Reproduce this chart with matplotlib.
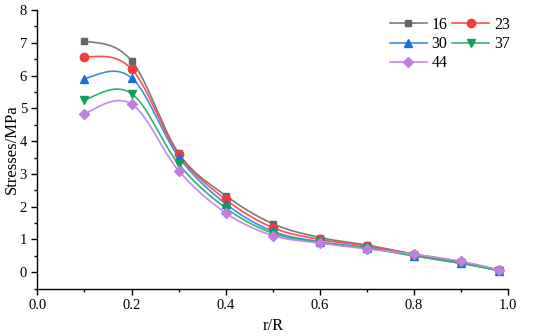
import numpy as np
import matplotlib
matplotlib.use("Agg")
import matplotlib.pyplot as plt
from matplotlib.ticker import MultipleLocator

# data
r_R = [0.1, 0.2, 0.3, 0.4, 0.5, 0.6, 0.7, 0.8, 0.9, 0.98]
s16 = [7.05, 6.45, 3.63, 2.34, 1.48, 1.06, 0.83, 0.55, 0.32, 0.06]
s23 = [6.57, 6.20, 3.60, 2.22, 1.36, 1.00, 0.80, 0.54, 0.31, 0.06]
s30 = [5.90, 5.93, 3.52, 2.09, 1.25, 0.93, 0.75, 0.50, 0.28, 0.05]
s37 = [5.25, 5.45, 3.30, 1.96, 1.19, 0.91, 0.74, 0.50, 0.27, 0.05]
s44 = [4.83, 5.13, 3.10, 1.81, 1.12, 0.89, 0.71, 0.55, 0.33, 0.08]
labels = ["16", "23", "30", "37", "44"]

plt.rcParams['font.family'] = ['Liberation Serif', 'DejaVu Serif']


def smooth(x, y, n=40):
    # cubic hermite with centred slopes, softened ends
    x = np.asarray(x, float)
    y = np.asarray(y, float)
    k = len(x)
    t = np.zeros(k)
    for i in range(1, k - 1):
        t[i] = (y[i + 1] - y[i - 1]) / (x[i + 1] - x[i - 1])
    m0 = (y[1] - y[0]) / (x[1] - x[0])
    m1 = (y[-1] - y[-2]) / (x[-1] - x[-2])
    t[0] = m0 + 0.35 * (m0 - t[1])
    t[-1] = m1 + 0.35 * (m1 - t[-2])
    xs_all, ys_all = [], []
    for i in range(k - 1):
        h = x[i + 1] - x[i]
        s = np.linspace(0, 1, n)
        h00 = 2 * s ** 3 - 3 * s ** 2 + 1
        h10 = s ** 3 - 2 * s ** 2 + s
        h01 = -2 * s ** 3 + 3 * s ** 2
        h11 = s ** 3 - s ** 2
        xs_all.append(x[i] + s * h)
        ys_all.append(h00 * y[i] + h10 * h * t[i] + h01 * y[i + 1] + h11 * h * t[i + 1])
    return np.concatenate(xs_all), np.concatenate(ys_all)


series = [s16, s23, s30, s37, s44]
line_colors = ["#7a7a7a", "#ff4d4d", "#3a8ee6", "#2fb36e", "#c48ae6"]
mark_colors = ["#666666", "#f03c3c", "#1a6fe0", "#12a05a", "#bf7ee3"]
markers = ["s", "o", "^", "v", "D"]
msizes = [5, 6, 6, 6, 5]

fig = plt.figure(figsize=(5.5, 3.36), dpi=100)
ax = fig.add_axes([0.068, 0.141, 0.856, 0.829])

handles = []
for ys, lab, lc, mc, mk, ms in zip(series, labels, line_colors, mark_colors, markers, msizes):
    xs, yy = smooth(r_R, ys)
    ax.plot(xs, yy, color=lc, lw=1.2, zorder=2)
    ax.plot(r_R, ys, ls="none", marker=mk, ms=ms, color=mc, zorder=3)
    h, = ax.plot([], [], color=lc, lw=1.2, marker=mk, ms=ms, mfc=mc, mec=mc, label=lab)
    handles.append(h)

ax.set_xlim(0, 1.0)
ax.set_ylim(-0.5, 8)
ax.xaxis.set_major_locator(MultipleLocator(0.2))
ax.xaxis.set_minor_locator(MultipleLocator(0.1))
ax.yaxis.set_major_locator(MultipleLocator(1))
ax.yaxis.set_minor_locator(MultipleLocator(0.5))
ax.xaxis.set_major_formatter(plt.FormatStrFormatter('%.1f'))
ax.spines['top'].set_visible(False)
ax.spines['right'].set_visible(False)
for s in ['left', 'bottom']:
    ax.spines[s].set_linewidth(1.0)
ax.tick_params(which='major', direction='out', length=4, width=1.0, labelsize=10.5)
ax.tick_params(which='minor', direction='out', length=2.5, width=1.0)
ax.set_xlabel("r/R", fontsize=12, labelpad=4)
ax.set_ylabel("Stresses/MPa", fontsize=12, labelpad=0)

# row-wise order like the original: 16 23 / 30 37 / 44
order = [0, 2, 4, 1, 3]
ax.legend(handles=[handles[i] for i in order], ncol=2, frameon=False, fontsize=11.5,
          loc='upper left', bbox_to_anchor=(390 / 550, 1 - 17 / 336), bbox_transform=fig.transFigure,
          handlelength=2.3, columnspacing=0.3, handletextpad=0.3, labelspacing=0.2,
          borderaxespad=0, borderpad=0)

fig.savefig("out.png", dpi=100)
